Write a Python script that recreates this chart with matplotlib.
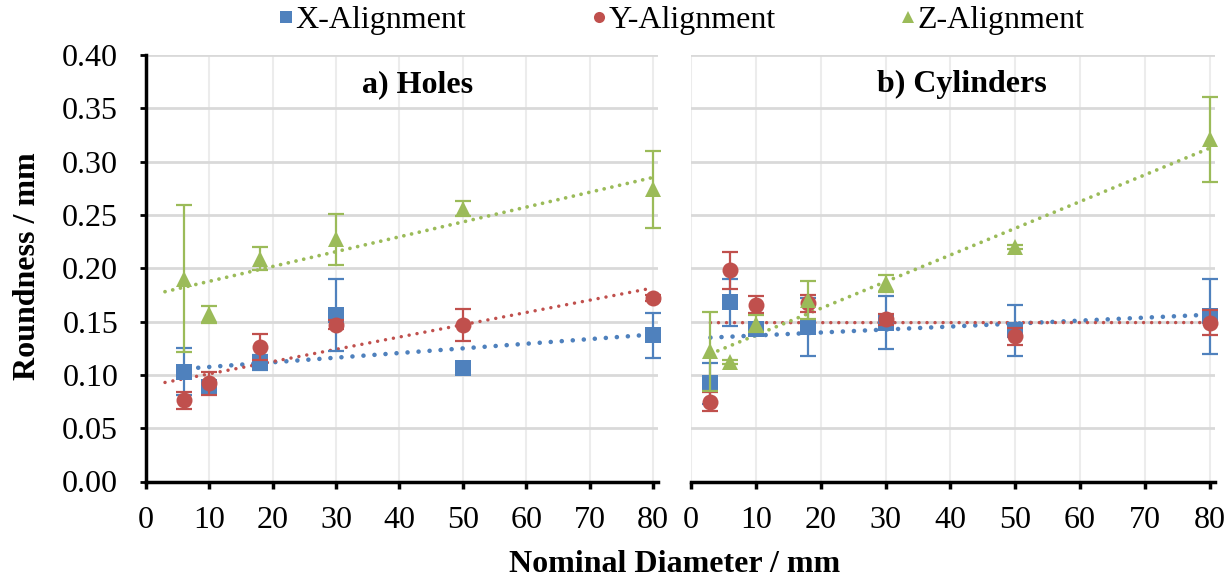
import numpy as np
import matplotlib
matplotlib.use("Agg")
import matplotlib.pyplot as plt
from matplotlib.lines import Line2D

plt.rcParams['font.family'] = ['Liberation Serif', 'DejaVu Serif']

# a) Holes
holes_d = [6, 10, 18, 30, 50, 80]
holes_x = [0.103, 0.089, 0.112, 0.156, 0.106, 0.137]
holes_x_err = [0.022, 0.005, 0.007, 0.034, 0.003, 0.021]
holes_y = [0.076, 0.092, 0.126, 0.147, 0.147, 0.172]
holes_y_err = [0.008, 0.011, 0.012, 0.004, 0.015, 0.003]
holes_z = [0.190, 0.157, 0.209, 0.227, 0.256, 0.274]
holes_z_err = [0.069, 0.008, 0.011, 0.024, 0.007, 0.036]

# b) Cylinders
cyl_d = [3, 6, 10, 18, 30, 50, 80]
cyl_x = [0.092, 0.168, 0.143, 0.145, 0.149, 0.142, 0.155]
cyl_x_err = [0.019, 0.022, 0.005, 0.027, 0.025, 0.024, 0.035]
cyl_y = [0.075, 0.198, 0.166, 0.167, 0.152, 0.136, 0.149]
cyl_y_err = [0.009, 0.017, 0.008, 0.008, 0.005, 0.008, 0.012]
cyl_z = [0.122, 0.112, 0.148, 0.170, 0.186, 0.220, 0.321]
cyl_z_err = [0.037, 0.002, 0.008, 0.018, 0.008, 0.002, 0.040]

labels = ['X-Alignment', 'Y-Alignment', 'Z-Alignment']
colors = ['#4F81BD', '#C0504D', '#9BBB59']
markers = ['s', 'o', '^']
msizes = [11.5, 11.5, 11.5]
# round-dot trendline styles (width in pt, gap in line widths)
trend_lw = [3.3, 2.5, 2.7]
trend_gap = [2.4, 2.3, 2.1]

fig = plt.figure(figsize=(12.32, 5.84), dpi=100)
W, H = 1232, 584
top, bot = 55, 481.5
ax1 = fig.add_axes([146 / W, 1 - bot / H, (658 - 146) / W, (bot - top) / H])
ax2 = fig.add_axes([691 / W, 1 - bot / H, (1215 - 691) / W, (bot - top) / H])


def draw_panel(ax, d, series, trend_start, title, title_x):
    ax.set_xlim(0, 80.8)
    ax.set_ylim(0, 0.40)
    ax.set_xticks(np.arange(0, 81, 10))
    ax.set_yticks(np.arange(0, 0.401, 0.05))
    ax.grid(axis='y', color='#d9d9d9', lw=2, zorder=0)
    ax.grid(axis='x', color='#ececec', lw=1.5, zorder=0)
    ax.set_axisbelow(True)

    # trendlines (linear fits)
    for (vals, err), c, x0, lw, gap in zip(series, colors, trend_start,
                                          trend_lw, trend_gap):
        k, b = np.polyfit(d, vals, 1)
        xs = np.array([x0, 80])
        ax.plot(xs, k * xs + b, color=c, lw=lw, linestyle=(0, (0.01, gap)),
                dash_capstyle='round', zorder=2)

    z = 3
    for (vals, err), c, m, ms in zip(series, colors, markers, msizes):
        ax.errorbar(d, vals, yerr=err, fmt='none', ecolor=c, elinewidth=1.6,
                    capsize=5.5, capthick=1.6, zorder=z, clip_on=False)
        ax.plot(d, vals, linestyle='none', marker=m, color=c, ms=ms, mew=0,
                zorder=z + 0.5, clip_on=False)
        z += 1

    ax.text(title_x, 0.93, title, transform=ax.transAxes, ha='center',
            va='center', fontsize=23, fontweight='bold')
    for s in ['top', 'right']:
        ax.spines[s].set_visible(False)
    ax.spines['bottom'].set_linewidth(2.5)
    ax.spines['left'].set_linewidth(2.5)
    ax.tick_params(axis='x', direction='out', length=5, width=2.5,
                   labelsize=23, pad=13)
    ax.tick_params(axis='y', direction='out', length=4, width=2,
                   labelsize=23, pad=16)


draw_panel(ax1, holes_d,
           [(holes_x, holes_x_err), (holes_y, holes_y_err), (holes_z, holes_z_err)],
           [6.5, 3, 3], 'a) Holes', 0.531)
ax1.set_yticklabels([f'{v:.2f}' for v in np.arange(0, 0.401, 0.05)])

draw_panel(ax2, cyl_d,
           [(cyl_x, cyl_x_err), (cyl_y, cyl_y_err), (cyl_z, cyl_z_err)],
           [3, 3, 3], 'b) Cylinders', 0.517)
ax2.spines['left'].set_visible(False)
ax2.tick_params(axis='y', left=False, labelleft=False)

fig.text(28 / W, 1 - 266 / H, 'Roundness / mm', rotation=90, ha='center',
         va='center', fontsize=23, fontweight='bold')
fig.text(675 / W, 1 - 565 / H, 'Nominal Diameter / mm', ha='center',
         va='center', fontsize=23, fontweight='bold')

handles = [Line2D([], [], linestyle='none', marker=m, color=c, ms=8, mew=0)
           for m, c in zip(markers, colors)]
fig.legend(handles, labels, loc='upper center', bbox_to_anchor=(0.553, 1.04),
           ncol=3, frameon=False, fontsize=23, handlelength=0.5,
           handletextpad=0.05, columnspacing=3.9)

fig.savefig('out.png', dpi=100)
